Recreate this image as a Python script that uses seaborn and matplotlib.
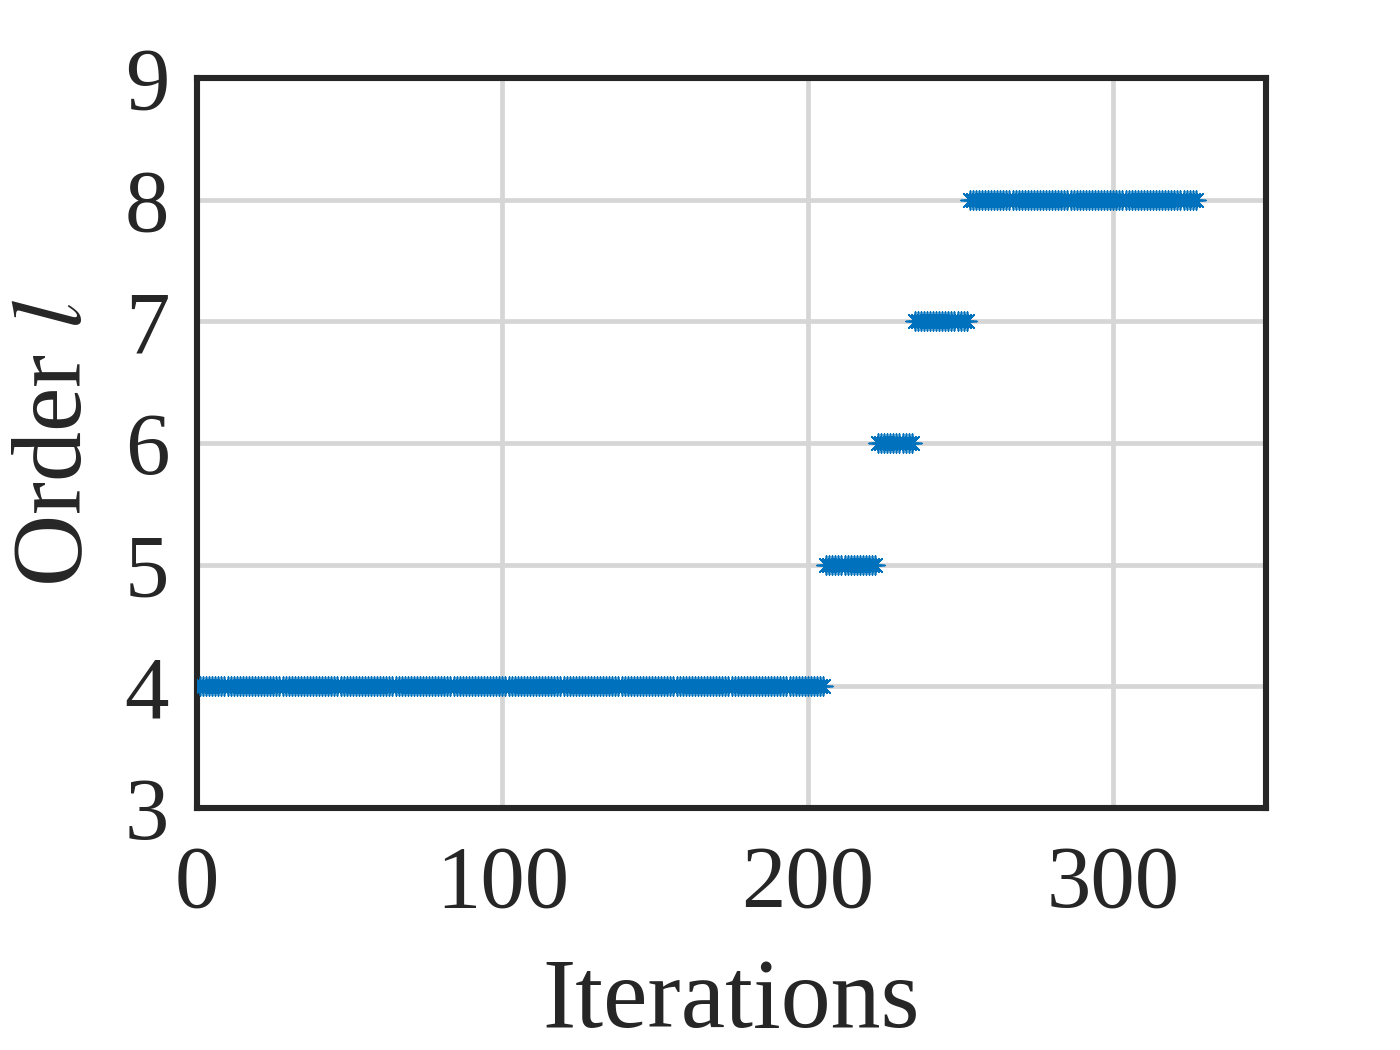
import numpy as np
import pandas as pd
import matplotlib.pyplot as plt
import seaborn as sns

# order l held over ranges of iterations
orders = [4, 5, 6, 7, 8]
seg_start = [1, 206, 223, 235, 253]
seg_end = [205, 222, 234, 252, 327]

xticks = [0, 100, 200, 300]
yticks = [3, 4, 5, 6, 7, 8, 9]

iters = np.concatenate([np.arange(a, b + 1) for a, b in zip(seg_start, seg_end)])
order_vals = np.concatenate([[o] * (b - a + 1) for o, a, b in zip(orders, seg_start, seg_end)])
df = pd.DataFrame({'Iterations': iters, 'Order': order_vals})

sns.set_style('white')
plt.rcParams['font.family'] = ['Liberation Serif', 'DejaVu Serif']
plt.rcParams['mathtext.fontset'] = 'stix'

fig, ax = plt.subplots(figsize=(7, 5.25), dpi=200)
fig.subplots_adjust(left=0.1407, right=0.9043, top=0.9257, bottom=0.2305)

sns.scatterplot(data=df, x='Iterations', y='Order', ax=ax, marker=(8, 2, 0),
                s=45, color='#0072BD', linewidth=0.6, edgecolor='#0072BD', zorder=3)

ax.set_xlim(0, 350)
ax.set_ylim(3, 9)
ax.set_xticks(xticks)
ax.set_yticks(yticks)
ax.grid(True, color='#d6d6d6', linewidth=1.7)
ax.set_axisbelow(True)
ax.tick_params(axis='y', labelsize=32, length=0, pad=10, colors='#262626')
ax.tick_params(axis='x', labelsize=32, length=0, pad=13, colors='#262626')
for sp in ax.spines.values():
    sp.set_linewidth(2.2)
    sp.set_color('#262626')

ax.set_xlabel('Iterations', fontsize=36, color='#262626', labelpad=12)
ax.set_ylabel('Order $l$', fontsize=36, color='#262626', labelpad=8)

fig.savefig('out.png', dpi=200)
